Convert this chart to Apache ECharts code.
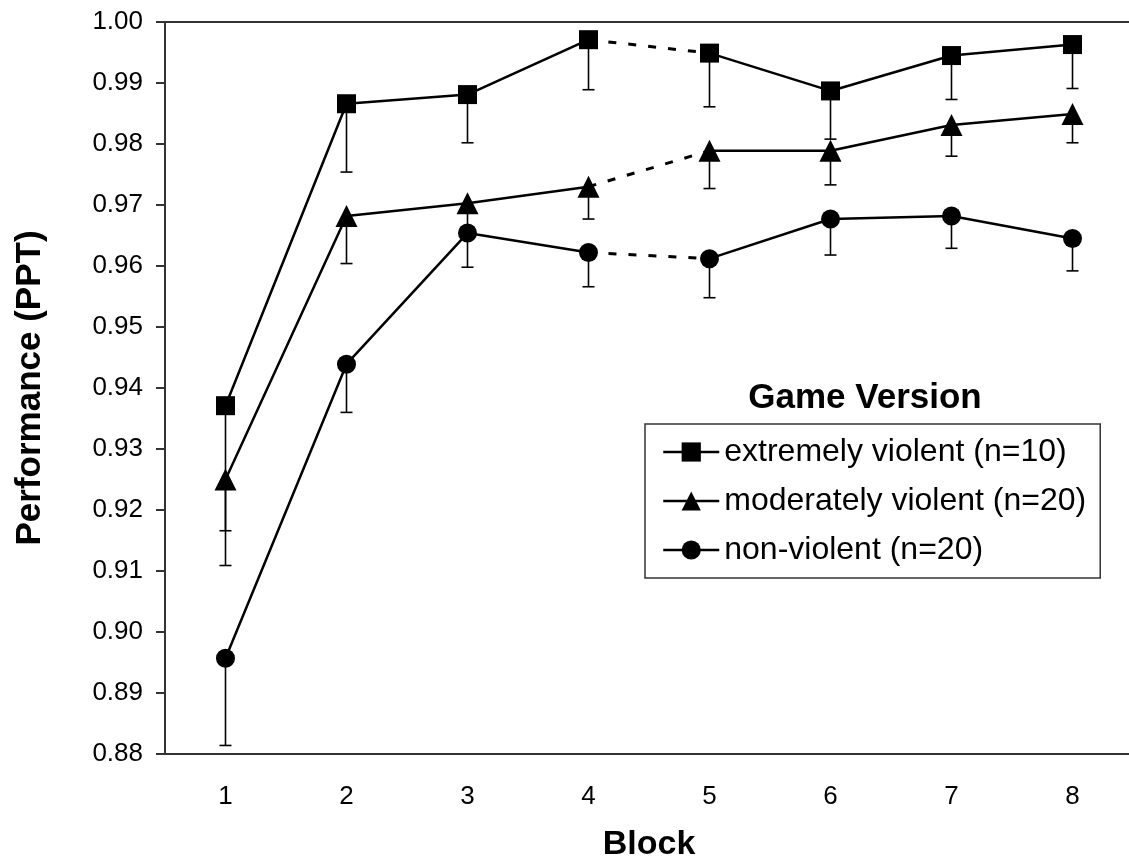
<!DOCTYPE html>
<html>
<head>
<meta charset="UTF-8">
<title>Performance by block</title>
<style>
  html, body { margin: 0; padding: 0; background: #fff; }
  #main { width: 1129px; height: 864px; }
</style>
</head>
<body>
<div id="main"></div>
<script src="https://cdn.jsdelivr.net/npm/echarts@6/dist/echarts.min.js"></script>
<script>
// blocks on the x axis
var blocks = ['1', '2', '3', '4', '5', '6', '7', '8'];
var yTicks = [0.88, 1.00, 0.01]; // min, max, step

// means
var extreme  = [0.9371, 0.9866, 0.9881, 0.9971, 0.9949, 0.9887, 0.9945, 0.9963];
var moderate = [0.9250, 0.9682, 0.9703, 0.9730, 0.9789, 0.9789, 0.9831, 0.9849];
var nonViol  = [0.8957, 0.9439, 0.9654, 0.9622, 0.9612, 0.9677, 0.9682, 0.9645];

// lower end of the error bars
var extremeLow  = [0.9166, 0.9754, 0.9802, 0.9889, 0.9861, 0.9808, 0.9873, 0.9891];
var moderateLow = [0.9109, 0.9604, 0.9655, 0.9677, 0.9727, 0.9733, 0.9780, 0.9802];
var nonViolLow  = [0.8814, 0.9360, 0.9598, 0.9566, 0.9548, 0.9618, 0.9629, 0.9592];

var groups = [
  { name: 'extremely violent (n=10)',  symbol: 'rect',     size: 19, mean: extreme,  low: extremeLow },
  { name: 'moderately violent (n=20)', symbol: 'triangle', size: 22, mean: moderate, low: moderateLow },
  { name: 'non-violent (n=20)',        symbol: 'circle',   size: 19, mean: nonViol,  low: nonViolLow }
];

var FONT = '"Liberation Sans", Arial, sans-serif';
var breakAt = 4; // dashed link between block 4 and 5

function part(arr, from, to) {
  return arr.map(function (v, i) { return (i >= from && i < to) ? v : '-'; });
}

var series = [];
groups.forEach(function (g) {
  // error bars (downwards only)
  series.push({
    name: g.name + ' err',
    type: 'custom',
    z: 1,
    silent: true,
    data: g.mean.map(function (v, i) { return [i, v, g.low[i]]; }),
    encode: { x: 0, y: [1, 2] },
    renderItem: function (params, api) {
      var top = api.coord([api.value(0), api.value(1)]);
      var bot = api.coord([api.value(0), api.value(2)]);
      var style = { stroke: '#000', lineWidth: 1.6 };
      return {
        type: 'group',
        children: [
          { type: 'line', shape: { x1: top[0], y1: top[1], x2: bot[0], y2: bot[1] }, style: style },
          { type: 'line', shape: { x1: bot[0] - 6, y1: bot[1], x2: bot[0] + 6, y2: bot[1] }, style: style }
        ]
      };
    }
  });
  var common = {
    type: 'line',
    z: 3,
    symbol: g.symbol,
    symbolSize: g.size,
    itemStyle: { color: '#000' },
    lineStyle: { color: '#000', width: 2.5 },
    emphasis: { disabled: true },
    animation: false
  };
  series.push(Object.assign({}, common, { name: g.name, data: part(g.mean, 0, breakAt) }));
  series.push(Object.assign({}, common, { name: g.name + ' b', data: part(g.mean, breakAt, 8) }));
  series.push(Object.assign({}, common, {
    name: g.name + ' gap',
    z: 2,
    showSymbol: false,
    symbol: 'none',
    data: part(g.mean, breakAt - 1, breakAt + 1),
    lineStyle: { color: '#000', width: 3, type: [8, 12] }
  }));
});

var chart = echarts.init(document.getElementById('main'));
chart.setOption({
  animation: false,
  backgroundColor: '#fff',
  textStyle: { fontFamily: FONT, color: '#000' },
  grid: { left: 165, top: 22, right: -4, bottom: 110, outerBoundsMode: 'none', containLabel: false },
  title: {
    text: 'Game Version',
    left: 860,
    top: 376,
    textAlign: 'center',
    textStyle: { fontFamily: FONT, fontSize: 35, fontWeight: 'bold', color: '#000' }
  },
  legend: {
    orient: 'vertical',
    left: 645,
    top: 424,
    data: groups.map(function (g) { return g.name; }),
    itemWidth: 56,
    itemHeight: 24,
    itemGap: 17,
    padding: [12, 14, 12, 17],
    borderColor: '#333',
    borderWidth: 1.5,
    selectedMode: false,
    lineStyle: { width: 2.5, color: '#000' },
    textStyle: { fontFamily: FONT, fontSize: 32, color: '#000', lineHeight: 32 }
  },
  xAxis: [{
    type: 'category',
    data: blocks,
    boundaryGap: true,
    name: 'Block',
    nameLocation: 'middle',
    nameGap: 74,
    nameTextStyle: { fontFamily: FONT, fontSize: 34, fontWeight: 'bold', color: '#000' },
    axisLine: { lineStyle: { color: '#333', width: 2 } },
    axisTick: { show: false },
    axisLabel: { fontFamily: FONT, fontSize: 26, color: '#000', margin: 30 },
    splitLine: { show: false }
  }, {
    // top frame line only
    type: 'category',
    data: blocks,
    position: 'top',
    axisLine: { show: true, lineStyle: { color: '#333', width: 2 } },
    axisTick: { show: false },
    axisLabel: { show: false },
    splitLine: { show: false }
  }],
  yAxis: {
    type: 'value',
    min: yTicks[0],
    max: yTicks[1],
    interval: yTicks[2],
    name: 'Performance (PPT)',
    nameLocation: 'middle',
    nameGap: 117,
    nameTextStyle: { fontFamily: FONT, fontSize: 35, fontWeight: 'bold', color: '#000' },
    axisLine: { show: true, lineStyle: { color: '#333', width: 2 } },
    axisTick: { show: true, inside: false, length: 9, lineStyle: { color: '#333', width: 2 } },
    axisLabel: {
      fontFamily: FONT, fontSize: 26, color: '#000', margin: 22,
      formatter: function (v) { return v.toFixed(2); }
    },
    splitLine: { show: false }
  },
  series: series
});
</script>
</body>
</html>
